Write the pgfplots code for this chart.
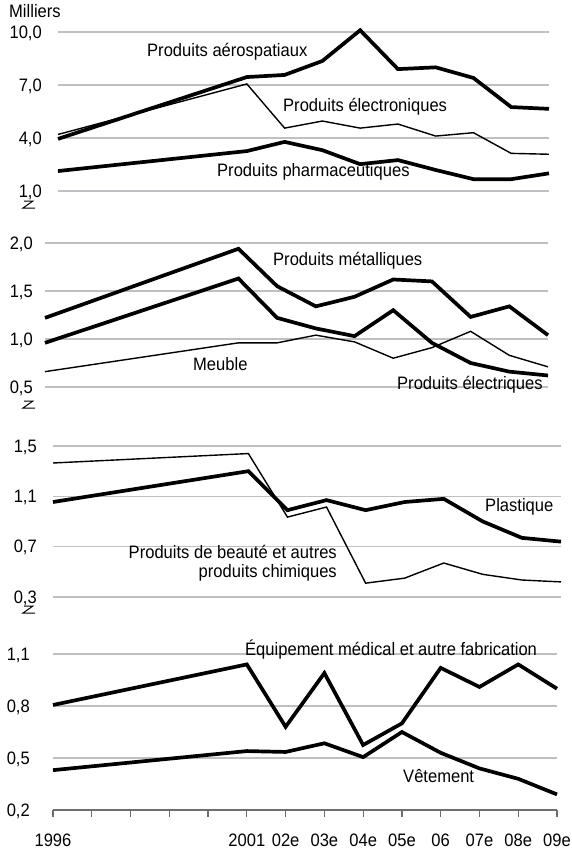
\documentclass[border=0pt]{standalone}
\usepackage{pgfplots}
\pgfplotsset{compat=1.18}
\usepackage{fontspec}
\setmainfont{Liberation Sans}[FakeStretch=0.92]
\definecolor{gridc}{RGB}{190,192,195}
\definecolor{axc}{RGB}{110,110,110}
\newcommand{\fnt}{\fontsize{18}{21}\selectfont}
\pgfplotsset{
  panel/.style={
    scale only axis, anchor=south west, clip=false,
    xmin=0, xmax=13, xtick=\empty,
    axis line style={draw=none},
    ymajorgrids, major grid style={draw=gridc, line width=1.6pt},
    major tick length=0pt,
    ytick style={draw=none},
    tick label style={font=\fnt, text=black},
    yticklabel style={anchor=base east, inner sep=0pt, yshift=-6.3pt,
      /pgf/number format/fixed, /pgf/number format/fixed zerofill,
      /pgf/number format/precision=1, /pgf/number format/use comma,
      /pgf/number format/assume math mode=true},
  },
  thick line/.style={black, line width=3.7pt, no markers},
  thin line/.style={black, line width=1.4pt, no markers},
}
\tikzset{xl/.style={anchor=base, inner sep=0pt, yshift=-36pt}}
\begin{document}
\begin{tikzpicture}[font=\fnt]
\path[use as bounding box] (0,0) rectangle (571pt,-849pt);

% Panel 1
\begin{axis}[panel, at={(58pt,-191pt)}, width=491pt, height=159pt,
  ymin=1, ymax=10, ytick={1,4,7,10}, yticklabel style={xshift=-16pt}]
\addplot[thick line] coordinates {(0,3.95)(5,7.45)(6,7.57)(7,8.36)(8,10.1)(9,7.9)(10,8.0)(11,7.4)(12,5.75)(13,5.65)};
\addplot[thin line] coordinates {(0,4.2)(5,7.06)(6,4.56)(7,4.96)(8,4.56)(9,4.79)(10,4.11)(11,4.3)(12,3.13)(13,3.08)};
\addplot[thick line] coordinates {(0,2.13)(5,3.26)(6,3.78)(7,3.31)(8,2.52)(9,2.75)(10,2.19)(11,1.67)(12,1.67)(13,2.0)};
\end{axis}

% Panel 2
\begin{axis}[panel, at={(45pt,-387pt)}, width=503pt, height=144pt,
  ymin=0.5, ymax=2, ytick={0.5,1,1.5,2}, yticklabel style={xshift=-12pt}]
\addplot[thick line] coordinates {(0,1.22)(5,1.94)(6,1.55)(7,1.34)(8,1.44)(9,1.62)(10,1.6)(11,1.23)(12,1.34)(13,1.04)};
\addplot[thick line] coordinates {(0,0.96)(5,1.63)(6,1.22)(7,1.11)(8,1.03)(9,1.30)(10,0.96)(11,0.75)(12,0.66)(13,0.62)};
\addplot[thin line] coordinates {(0,0.66)(5,0.96)(6,0.96)(7,1.04)(8,0.97)(9,0.80)(10,0.91)(11,1.08)(12,0.83)(13,0.71)};
\end{axis}

% Panel 3
\begin{axis}[panel, at={(53pt,-597pt)}, width=508pt, height=151pt,
  ymin=0.3, ymax=1.5, ytick={0.3,0.7,1.1,1.5}, yticklabel style={xshift=-16pt}]
\addplot[thick line] coordinates {(0,1.055)(5,1.30)(6,0.99)(7,1.07)(8,0.99)(9,1.055)(10,1.08)(11,0.90)(12,0.77)(13,0.74)};
\addplot[thin line] coordinates {(0,1.365)(5,1.44)(6,0.935)(7,1.015)(8,0.41)(9,0.45)(10,0.57)(11,0.48)(12,0.435)(13,0.42)};
\end{axis}

% Panel 4
\begin{axis}[panel, at={(53pt,-810pt)}, width=504pt, height=156pt,
  ymin=0.2, ymax=1.1, ytick={0.2,0.5,0.8,1.1}, yticklabel style={xshift=-16pt},
  axis x line=bottom, axis y line=left,
  x axis line style={draw=axc, line width=1.2pt, -},
  y axis line style={draw=none},
  xtick={0,...,13}, xticklabels={}, xtick style={draw=axc, line width=1.2pt},
  tick align=outside, xtick pos=bottom, xmajorgrids=false,
  major tick length=7pt]
\addplot[thick line] coordinates {(0,0.806)(5,1.04)(6,0.68)(7,0.99)(8,0.575)(9,0.70)(10,1.02)(11,0.91)(12,1.04)(13,0.90)};
\addplot[thick line] coordinates {(0,0.43)(5,0.54)(6,0.535)(7,0.585)(8,0.505)(9,0.65)(10,0.53)(11,0.44)(12,0.38)(13,0.29)};
\node[xl] at (axis cs:0,0.2) {1996};
\node[xl] at (axis cs:5,0.2) {2001};
\node[xl] at (axis cs:6,0.2) {02e};
\node[xl] at (axis cs:7,0.2) {03e};
\node[xl] at (axis cs:8,0.2) {04e};
\node[xl] at (axis cs:9,0.2) {05e};
\node[xl] at (axis cs:10,0.2) {06};
\node[xl] at (axis cs:11,0.2) {07e};
\node[xl] at (axis cs:12,0.2) {08e};
\node[xl] at (axis cs:13,0.2) {09e};
\end{axis}

% break symbols
\foreach \y in {201,401,606}{
  \draw[black, line width=1pt] (24pt,-\y pt) -- (33pt,-\y pt) -- (23pt,{-(\y+7)*1pt}) -- (35pt,{-(\y+7)*1pt});
}

% labels
\node[anchor=west, inner sep=0pt] at (9pt,-11pt) {Milliers};
\node[anchor=west, inner sep=0pt] at (147pt,-52pt) {Produits aérospatiaux};
\node[anchor=west, inner sep=0pt] at (283pt,-107pt) {Produits électroniques};
\node[anchor=west, inner sep=0pt] at (217pt,-172pt) {Produits pharmaceutiques};
\node[anchor=west, inner sep=0pt] at (273pt,-261pt) {Produits métalliques};
\node[anchor=west, inner sep=0pt] at (193pt,-364pt) {Meuble};
\node[anchor=west, inner sep=0pt] at (397pt,-385pt) {Produits électriques};
\node[anchor=west, inner sep=0pt] at (485pt,-507pt) {Plastique};
\node[anchor=east, inner sep=0pt] at (337pt,-552pt) {Produits de beauté et autres};
\node[anchor=east, inner sep=0pt] at (337pt,-573pt) {produits chimiques};
\node[anchor=west, inner sep=0pt] at (245pt,-650pt) {Équipement médical et autre fabrication};
\node[anchor=west, inner sep=0pt] at (403pt,-776pt) {Vêtement};
\end{tikzpicture}
\end{document}
